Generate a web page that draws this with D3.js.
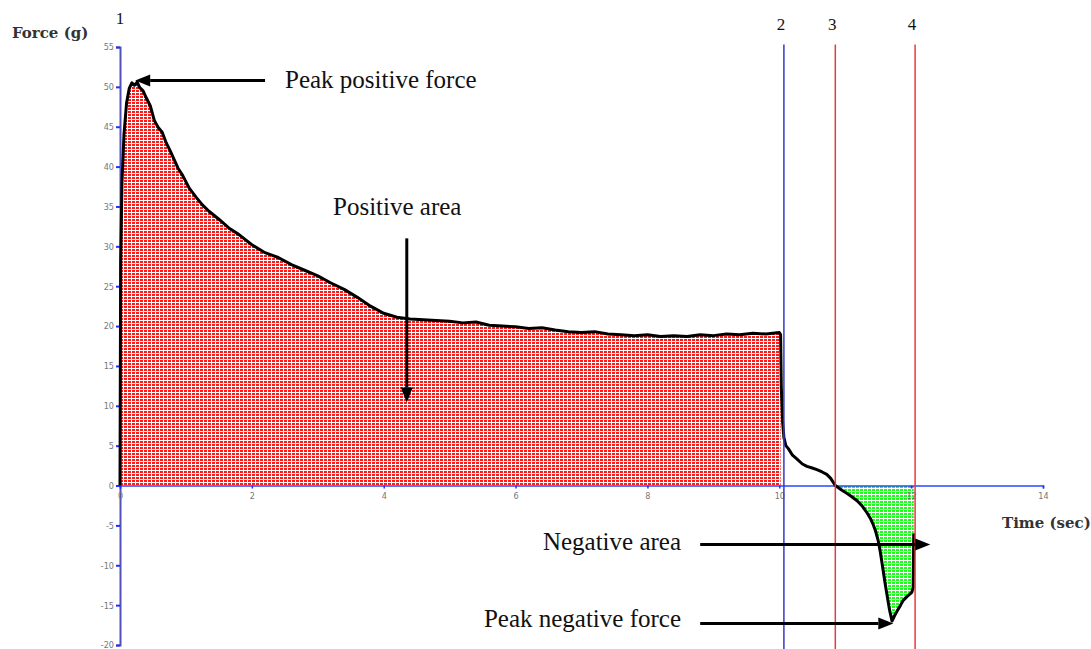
<!DOCTYPE html>
<html>
<head>
<meta charset="utf-8">
<script src="https://cdn.jsdelivr.net/npm/d3@7"></script>
<style>
  body { margin: 0; background: #fff; }
  svg { display: block; }
  .tick text { font-family: 'Liberation Sans Narrow', 'DejaVu Sans Condensed', sans-serif; font-size: 9px; fill: #777; }
  .note { font-family: 'Liberation Serif', serif; font-size: 25px; fill: #111; }
  .axis-title { font-family: 'DejaVu Serif', serif; font-size: 15px; font-weight: bold; fill: #333; }
  .marker-label { font-family: 'Liberation Serif', serif; font-size: 17px; fill: #111; }
</style>
</head>
<body>
<svg width="1091" height="649"></svg>
<script>
// force trace: time (s) and force (g)
const timeS = [
  0, 0.01, 0.03, 0.06, 0.1, 0.14, 0.18, 0.22, 0.26, 0.3, 0.35, 0.4, 0.46, 0.52, 0.58,
  0.64, 0.7, 0.76, 0.82, 0.88, 0.95, 1.05, 1.15, 1.25, 1.35, 1.5, 1.65, 1.8, 2.0, 2.2,
  2.4, 2.6, 2.8, 3.0, 3.2, 3.4, 3.6, 3.8, 4.0, 4.2, 4.4, 4.6, 4.8, 5.0, 5.2, 5.4, 5.6,
  5.8, 6.0, 6.2, 6.4, 6.6, 6.8, 7.0, 7.2, 7.4, 7.6, 7.8, 8.0, 8.2, 8.4, 8.6, 8.8, 9.0,
  9.2, 9.4, 9.6, 9.8, 10.0, 10.02, 10.03, 10.05, 10.07, 10.1, 10.14, 10.2, 10.27, 10.35,
  10.42, 10.5, 10.57, 10.65, 10.72, 10.78, 10.85, 10.95, 11.03, 11.1, 11.18, 11.25,
  11.33, 11.38, 11.42, 11.46, 11.5, 11.53, 11.56, 11.6, 11.63, 11.67, 11.71, 11.75,
  11.79, 11.84, 11.88, 11.94, 12.01, 12.03, 12.04
]
const forceG = [
  0, 28, 38, 44, 48, 49.8, 50.5, 50.2, 50.6, 49.9, 49.5, 48.6, 47.6, 45.8, 44.9,
  44.3, 43, 42, 40.9, 39.8, 38.9, 37.3, 36.2, 35.2, 34.4, 33.4, 32.3, 31.5, 30.2, 29.2,
  28.6, 27.7, 27.0, 26.3, 25.4, 24.6, 23.6, 22.5, 21.6, 21.1, 20.9, 20.8, 20.7, 20.6, 20.4, 20.5, 20.1,
  20.0, 19.9, 19.7, 19.8, 19.5, 19.3, 19.2, 19.3, 19.0, 18.9, 18.8, 18.9, 18.7, 18.8, 18.7, 18.9, 18.8,
  19.0, 18.9, 19.1, 19.0, 19.2, 18.9, 12.5, 8, 6, 5.0, 4.6, 3.8, 3.3, 2.7,
  2.4, 2.2, 2.0, 1.7, 1.4, 0.9, 0, -0.6, -1.0, -1.4, -1.9, -2.5,
  -3.4, -4.1, -4.8, -5.7, -6.9, -8.2, -9.8, -12, -13.5, -15.5, -17.0, -16.3,
  -15.7, -15.0, -14.4, -13.9, -13.4, -12.8, -6.0
]

const xTicks = [0, 2, 4, 6, 8, 10, 12, 14]
const yTicks = [-20, -15, -10, -5, 0, 5, 10, 15, 20, 25, 30, 35, 40, 45, 50, 55]

// event markers 2..4 (marker 1 sits on the y axis)
const markerTimes = [10.07, 10.85, 12.06]
const markerLabels = ['2', '3', '4']
const markerColors = ['#3838c8', '#e83a3a', '#e83a3a']

const positiveEnd = 10.02
const negativeRange = [10.85, 12.04]

const data = timeS.map((t, i) => ({ t, f: forceG[i] }))

const svg = d3.select('svg')
const x = d3.scaleLinear().domain([0, 14]).range([120, 1043])
const y = d3.scaleLinear().domain([-20, 55]).range([645, 47])

// dotted fills
const defs = svg.append('defs')
function dots (id, color) {
  const p = defs.append('pattern')
    .attr('id', id)
    .attr('patternUnits', 'userSpaceOnUse')
    .attr('width', 4)
    .attr('height', 3)
  p.append('rect').attr('width', 4).attr('height', 3).attr('fill', '#fff')
  p.append('rect').attr('width', 3).attr('height', 2).attr('fill', color)
}
dots('red-dots', '#ff1a1a')
dots('green-dots', '#1aff1a')

const area = d3.area()
  .x(d => x(d.t))
  .y0(y(0))
  .y1(d => y(d.f))

svg.append('path')
  .datum(data.filter(d => d.t <= positiveEnd))
  .attr('fill', 'url(#red-dots)')
  .attr('d', area)

svg.append('path')
  .datum(data.filter(d => d.t >= negativeRange[0] && d.t <= negativeRange[1]))
  .attr('fill', 'url(#green-dots)')
  .attr('d', area)

// axes
const yAxis = svg.append('g')
  .attr('transform', `translate(${x(0)},0)`)
  .call(d3.axisLeft(y).tickValues(yTicks).tickFormat(d => String(d)).tickSize(4).tickPadding(2))
yAxis.select('.domain').attr('stroke', '#5050b8').attr('stroke-width', 2)
yAxis.selectAll('.tick line').attr('stroke', '#2030ff').attr('stroke-width', 2)

const xAxis = svg.append('g')
  .attr('transform', `translate(0,${y(0)})`)
  .call(d3.axisBottom(x).tickValues(xTicks).tickFormat(d => String(d)).tickSize(3).tickPadding(4))
xAxis.select('.domain').attr('stroke', '#2a48ff').attr('stroke-width', 1.5)
xAxis.selectAll('.tick line').attr('stroke', '#2030ff').attr('stroke-width', 1.5)

// force trace
svg.append('path')
  .datum(data)
  .attr('fill', 'none')
  .attr('stroke', '#000')
  .attr('stroke-width', 3)
  .attr('stroke-linejoin', 'round')
  .attr('d', d3.line().x(d => x(d.t)).y(d => y(d.f)))

// markers
svg.selectAll('.marker')
  .data(markerTimes)
  .join('line')
  .attr('class', 'marker')
  .attr('x1', d => x(d)).attr('x2', d => x(d))
  .attr('y1', y(55.3)).attr('y2', 649)
  .attr('stroke', (d, i) => markerColors[i])
  .attr('stroke-width', 1.5)

svg.selectAll('.marker-label')
  .data(markerTimes)
  .join('text')
  .attr('class', 'marker-label')
  .attr('x', d => x(d) - 3)
  .attr('y', 30)
  .attr('text-anchor', 'middle')
  .text((d, i) => markerLabels[i])

svg.append('text')
  .attr('class', 'marker-label')
  .attr('x', x(0))
  .attr('y', 24)
  .attr('text-anchor', 'middle')
  .text('1')

svg.append('text').attr('class', 'axis-title').attr('x', 12).attr('y', 38).text('Force (g)')
svg.append('text').attr('class', 'axis-title').attr('x', 1002).attr('y', 528).text('Time (sec)')

// annotations
function arrow (x1, y1, x2, y2) {
  const a = Math.atan2(y2 - y1, x2 - x1)
  const len = 15
  const w = 6
  const bx = x2 - len * Math.cos(a)
  const by = y2 - len * Math.sin(a)
  svg.append('line')
    .attr('x1', x1).attr('y1', y1).attr('x2', bx).attr('y2', by)
    .attr('stroke', '#000').attr('stroke-width', 3)
  svg.append('polygon')
    .attr('points', [
      [x2, y2],
      [bx - w * Math.sin(a), by + w * Math.cos(a)],
      [bx + w * Math.sin(a), by - w * Math.cos(a)]
    ].map(p => p.join(',')).join(' '))
    .attr('fill', '#000')
}

arrow(x(2.2), y(50.8), x(0.23), y(50.8))
svg.append('text').attr('class', 'note').attr('x', 285).attr('y', 88).text('Peak positive force')

arrow(x(4.35), y(31), x(4.35), y(10.4))
svg.append('text').attr('class', 'note').attr('x', 333).attr('y', 215).text('Positive area')

arrow(x(8.8), y(-7.4), x(12.29), y(-7.4))
svg.append('text').attr('class', 'note').attr('x', 681).attr('y', 550).attr('text-anchor', 'end').text('Negative area')

arrow(x(8.8), y(-17.3), x(11.73), y(-17.3))
svg.append('text').attr('class', 'note').attr('x', 681).attr('y', 627).attr('text-anchor', 'end').text('Peak negative force')
</script>
</body>
</html>
